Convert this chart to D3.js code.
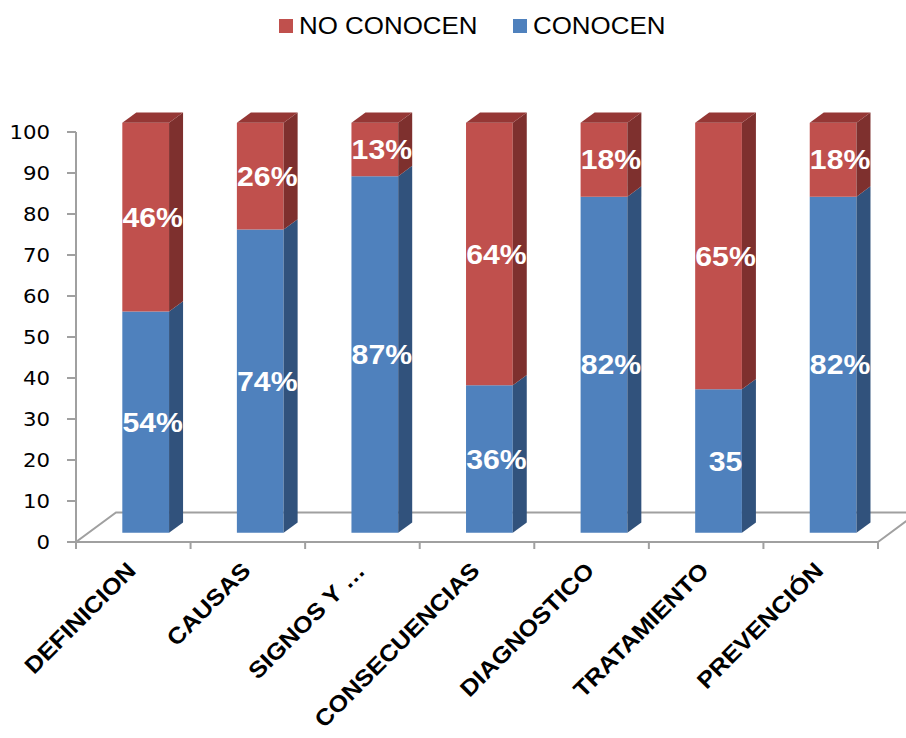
<!DOCTYPE html>
<html>
<head>
<meta charset="utf-8">
<script src="https://d3js.org/d3.v7.min.js"></script>
<style>
  body { margin: 0; background: #fff; }
</style>
</head>
<body>
<div id="chart_div"></div>
<script>

// data
var categories = ["DEFINICION", "CAUSAS", "SIGNOS Y \u2026", "CONSECUENCIAS", "DIAGNOSTICO", "TRATAMIENTO", "PREVENCIÓN"];
var conocen = [54, 74, 87, 36, 82, 35, 82];
var noConocen = [46, 26, 13, 64, 18, 65, 18];
var conocenLabels = ["54%", "74%", "87%", "36%", "82%", "35", "82%"];
var noConocenLabels = ["46%", "26%", "13%", "64%", "18%", "65%", "18%"];
var yTicks = [0, 10, 20, 30, 40, 50, 60, 70, 80, 90, 100];
var legendNames = ["NO CONOCEN", "CONOCEN"];

var width = 906, height = 738;
var stretch = 1.12; // text in the picture looks horizontally stretched

// floor / 3d geometry
var x0 = 76, x1 = 878;
var depthX = 40, depthY = -29.5;
var barFront = 0.31, barDepth = 0.35;

var colors = {
  blue: { front: "#4F81BD", side: "#31527C", top: "#3E6797" },
  red:  { front: "#C0504D", side: "#7E302E", top: "#953735" }
};

var svg = d3.select("#chart_div").append("svg")
    .attr("width", width)
    .attr("height", height)
    .style("font-family", "Arial, 'Liberation Sans', sans-serif");

var x = d3.scaleBand()
    .domain(categories)
    .range([x0, x1])
    .paddingInner(0.592)
    .paddingOuter(0.296);

var y = d3.scaleLinear()
    .domain([0, 100])
    .range([542, 132]);

// point in 3d -> screen: px on the front plane, value v, depth d (0..1)
function pt(px, v, d) {
  return [px + depthX * d, y(v) + depthY * d];
}
function poly(pts) {
  return "M" + pts.map(p => p.join(",")).join("L") + "Z";
}

// floor outline
var floor = svg.append("g")
    .attr("fill", "none")
    .attr("stroke", "#A0A0A0")
    .attr("stroke-width", 2);

floor.append("path")
    .attr("d", "M" + pt(x1, 0, 0) + "L" + pt(x0, 0, 0) + "L" + pt(x0, 0, 1) + "L" + pt(x1, 0, 1) + "L" + pt(x1, 0, 0));

// category ticks on front edge
var catTicks = d3.range(categories.length + 1).map(i => x0 + i * x.step());
floor.selectAll("line.ct")
  .data(catTicks)
  .join("line")
    .attr("class", "ct")
    .attr("x1", d => d).attr("x2", d => d)
    .attr("y1", y(0)).attr("y2", y(0) + 7);

// y axis
var yAxis = svg.append("g");
yAxis.append("line")
    .attr("x1", x0).attr("x2", x0)
    .attr("y1", y(100)).attr("y2", y(0))
    .attr("stroke", "#A0A0A0")
    .attr("stroke-width", 2);

yAxis.selectAll("line.yt")
  .data(yTicks)
  .join("line")
    .attr("class", "yt")
    .attr("x1", x0 - 9).attr("x2", x0)
    .attr("y1", d => y(d)).attr("y2", d => y(d))
    .attr("stroke", "#A0A0A0")
    .attr("stroke-width", 2);

yAxis.selectAll("text")
  .data(yTicks)
  .join("text")
    .attr("transform", d => `translate(50,${y(d)}) scale(${stretch},1)`)
    .attr("text-anchor", "end")
    .attr("dy", "0.36em")
    .style("font-family", "'DejaVu Sans', sans-serif")
    .style("font-size", "19px")
    .attr("fill", "#000")
    .text(d => d);

// bars
var bars = categories.map((c, i) => ({
  cat: c,
  segs: [
    { v0: 0, v1: conocen[i], col: colors.blue, label: conocenLabels[i] },
    { v0: conocen[i], v1: conocen[i] + noConocen[i], col: colors.red, label: noConocenLabels[i] }
  ]
}));

var barG = svg.append("g")
  .selectAll("g")
  .data(bars)
  .join("g");

barG.each(function(b) {
  var g = d3.select(this);
  var l = x(b.cat), r = x(b.cat) + x.bandwidth();
  var f = barFront, k = barFront + barDepth;
  b.segs.forEach(function(s, j) {
    g.append("path")
      .attr("d", poly([pt(l, s.v0, f), pt(r, s.v0, f), pt(r, s.v1, f), pt(l, s.v1, f)]))
      .attr("fill", s.col.front);
    g.append("path")
      .attr("d", poly([pt(r, s.v0, f), pt(r, s.v0, k), pt(r, s.v1, k), pt(r, s.v1, f)]))
      .attr("fill", s.col.side);
    if (j == b.segs.length - 1) {
      g.append("path")
        .attr("d", poly([pt(l, s.v1, f), pt(r, s.v1, f), pt(r, s.v1, k), pt(l, s.v1, k)]))
        .attr("fill", s.col.top);
    }
  });
  // labels on top of the faces
  b.segs.forEach(function(s) {
    var p = pt((l + r) / 2 + depthX * barDepth / 2, (s.v0 + s.v1) / 2, f);
    g.append("text")
      .attr("transform", `translate(${p[0]},${p[1]}) scale(${stretch},1)`)
      .attr("text-anchor", "middle")
      .attr("dy", "0.36em")
      .attr("fill", "#fff")
      .style("font-size", "27px")
      .style("font-weight", "bold")
      .text(s.label);
  });
});

// rotated category labels
svg.append("g")
  .selectAll("text")
  .data(categories)
  .join("text")
    .attr("transform", d => `translate(${x(d) + x.bandwidth() / 2 + 4},572) rotate(-45) scale(1.1,1)`)
    .attr("text-anchor", "end")
    .attr("fill", "#000")
    .style("font-size", "23px")
    .style("font-weight", "bold")
    .text(d => d);

// legend
var legendX = [279, 513];
var legendCol = [colors.red.front, colors.blue.front];
var legend = svg.append("g")
  .selectAll("g")
  .data(legendNames)
  .join("g")
    .attr("transform", (d, i) => `translate(${legendX[i]},0)`);

legend.append("rect")
    .attr("x", 0).attr("y", 19)
    .attr("width", 14).attr("height", 14)
    .attr("fill", (d, i) => legendCol[i]);

legend.append("text")
    .attr("transform", `translate(20,33.5) scale(1.08,1)`)
    .attr("fill", "#000")
    .style("font-size", "24px")
    .text(d => d);

</script>
</body>
</html>
